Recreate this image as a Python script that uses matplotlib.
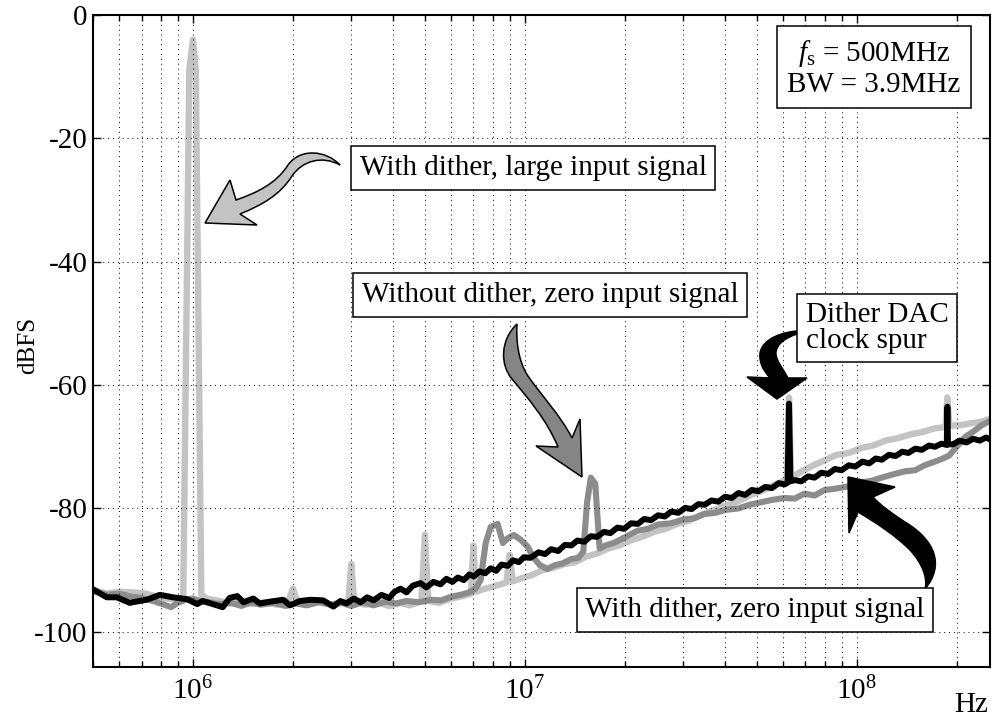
import matplotlib
matplotlib.use("Agg")
import matplotlib.pyplot as plt
from matplotlib.path import Path
from matplotlib.patches import PathPatch
from matplotlib.ticker import LogLocator, NullFormatter, FixedLocator, FixedFormatter

plt.rcParams["font.family"] = ["Liberation Serif", "DejaVu Serif"]
plt.rcParams["mathtext.fontset"] = "custom"
plt.rcParams["mathtext.rm"] = "Liberation Serif"
plt.rcParams["mathtext.it"] = "Liberation Serif:italic"

W, H = 992, 721

# ---- data (frequency in MHz, level in dBFS) --------------------------------
# with dither, large input signal (light grey)
large_f = [0.50, 0.55, 0.60, 0.66, 0.72, 0.78, 0.84, 0.89, 0.935, 0.975, 1.0, 1.02,
           1.06, 1.10, 1.20, 1.30, 1.40, 1.50, 1.65, 1.80, 1.94, 2.0, 2.06, 2.2,
           2.4, 2.6, 2.85, 2.94, 3.0, 3.06, 3.3, 3.6, 3.9, 4.2, 4.5, 4.88, 5.0,
           5.12, 5.5, 6.0, 6.5, 6.88, 7.0, 7.12, 7.6, 8.2, 8.8, 9.0, 9.2, 9.8,
           10.5, 11.3, 12.2, 13.2, 14.2, 15.3, 16.5, 17.8, 19.2, 20.8, 22.5, 24.5,
           26.5, 28.8, 31.2, 34.0, 37.0, 40.5, 44.0, 48.0, 52.5, 57.5, 61.6, 62.5,
           63.4, 68.0, 74.0, 80.0, 87.0, 94.6, 103, 112, 122, 133, 145, 158, 172,
           185, 187.5, 190, 205, 220, 235, 252]
large_db = [-93.2, -93.8, -93.5, -93.6, -93.8, -94.3, -94.6, -94.8, -94.5, -9.0, -4.0, -9.0,
            -94.0, -94.6, -95.0, -95.4, -95.0, -95.5, -95.2, -95.6, -95.0, -93.0, -95.0, -95.5,
            -95.0, -95.6, -95.2, -95.0, -89.0, -95.0, -95.6, -95.2, -95.8, -95.3, -95.7, -95.0, -84.3,
            -95.0, -95.3, -94.6, -94.2, -93.8, -86.0, -93.5, -93.0, -92.5, -92.0, -87.5, -91.8, -91.3,
            -90.8, -90.0, -89.6, -89.0, -88.7, -87.8, -87.3, -86.5, -86.0, -85.2, -84.6, -83.8,
            -83.3, -82.5, -82.0, -81.0, -80.3, -79.5, -78.8, -77.8, -77.0, -76.0, -75.3, -62.0,
            -75.0, -74.0, -73.0, -72.2, -71.3, -71.0, -70.2, -69.8, -69.0, -68.6, -68.0, -67.6, -67.0,
            -66.8, -62.0, -66.6, -66.5, -66.2, -66.0, -65.5]

# without dither, zero input signal (mid grey)
nodith_f = [0.50, 0.55, 0.60, 0.65, 0.70, 0.76, 0.82, 0.86, 0.90, 0.95, 1.00, 1.05,
            1.12, 1.2, 1.3, 1.4, 1.5, 1.6, 1.75, 1.9, 2.05, 2.2, 2.4, 2.6, 2.8, 3.0,
            3.25, 3.5, 3.8, 4.1, 4.4, 4.8, 5.2, 5.6, 6.0, 6.4, 6.8, 7.1, 7.36, 7.62,
            7.89, 8.28, 8.59, 8.89, 9.27, 9.73, 10.2, 10.6, 11.1, 11.7, 12.3, 13.0,
            13.8, 14.5, 15.0, 15.4, 15.8, 16.3, 16.8, 17.5, 18.5, 19.5, 20.6, 21.9,
            23.5, 25.2, 27.6, 30.0, 32.3, 34.8, 37.5, 40.6, 44.0, 47.5, 51.5, 55.7,
            60.6, 65.0, 69.5, 74.6, 80.0, 86.0, 94.6, 103, 111, 119, 128, 139, 150,
            160, 170, 180, 190, 200, 212, 225, 238, 252]
nodith_db = [-93.4, -94.0, -93.8, -94.3, -94.5, -95.0, -95.6, -96.0, -95.3, -94.8, -94.6, -95.0,
             -95.2, -95.5, -95.3, -95.8, -95.2, -95.6, -95.3, -95.8, -95.4, -95.7, -95.2, -95.6, -95.3, -95.8,
             -95.2, -95.7, -95.1, -95.4, -95.0, -95.2, -94.8, -94.9, -94.3, -94.0, -93.6, -93.0, -91.6, -85.6,
             -83.0, -82.5, -85.6, -84.8, -84.3, -85.1, -86.2, -87.9, -89.2, -89.8, -89.2, -88.9,
             -88.2, -88.0, -87.0, -79.0, -75.0, -76.0, -86.5, -86.0, -85.6, -85.0, -84.3, -83.6,
             -83.3, -82.6, -82.4, -81.8, -81.6, -80.9, -80.7, -80.2, -80.0, -79.4, -79.0, -78.6,
             -78.3, -78.4, -77.6, -77.9, -77.0, -76.8, -76.4, -75.8, -75.5, -75.0, -74.5, -74.0, -73.8,
             -73.0, -72.5, -72.0, -71.4, -70.0, -68.4, -67.5, -66.5, -65.8]

# with dither, zero input signal (black)
dith_f = [0.50, 0.55, 0.59, 0.645, 0.69, 0.726, 0.795, 0.87, 0.96, 1.03, 1.07, 1.18,
          1.23, 1.29, 1.36, 1.42, 1.52, 1.59, 1.71, 1.87, 1.96, 2.10, 2.26, 2.47,
          2.65, 2.78, 2.9, 3.05, 3.2, 3.35, 3.5, 3.7, 3.9, 4.05, 4.22, 4.4, 4.6,
          4.85, 5.05, 5.3, 5.57, 5.8, 6.05, 6.28, 6.55, 6.8, 7.02, 7.3, 7.6, 7.89,
          8.2, 8.5, 8.89, 9.2, 9.6, 9.93, 10.4, 11.0, 11.5, 12.0, 12.6, 13.2, 13.8,
          14.4, 15.1, 15.8, 16.5, 17.3, 18.1, 19.0, 19.9, 20.9, 21.9, 22.9, 24.0,
          25.2, 26.4, 27.6, 29.0, 30.4, 31.8, 33.3, 34.8, 36.5, 38.3, 40.1, 42.0,
          44.0, 46.1, 48.3, 50.6, 53.0, 55.5, 58.2, 60.6, 61.9, 62.5, 63.1, 65.0,
          68.0, 71.3, 74.6, 78.2, 82.0, 85.9, 90.0, 94.6, 99.0, 104, 109, 114, 119,
          125, 131, 137, 143, 150, 157, 165, 172, 180, 186.7, 187.5, 188.3, 195,
          204, 214, 224, 235, 245, 252]
dith_db = [-93.1, -94.4, -94.4, -95.3, -95.0, -94.8, -94.0, -94.4, -94.7, -95.5, -95.0, -95.7,
           -96.0, -94.5, -94.2, -95.2, -94.6, -95.4, -95.1, -94.8, -95.7, -95.0, -94.8, -94.9,
           -95.9, -95.0, -95.4, -94.6, -95.2, -94.4, -94.9, -94.0, -94.5, -93.5, -93.0, -93.6, -92.5,
           -92.1, -92.8, -91.9, -92.3, -91.4, -91.9, -91.2, -91.6, -90.7, -91.0, -90.2, -90.5, -89.7,
           -90.1, -89.1, -89.3, -88.4, -88.7, -87.9, -88.0, -87.1, -87.4, -86.6, -86.9, -85.9, -86.0,
           -85.2, -85.4, -84.5, -84.6, -83.8, -84.0, -83.1, -83.3, -82.4, -82.5, -81.7, -81.9,
           -81.1, -81.3, -80.5, -80.7, -79.9, -80.1, -79.3, -79.4, -78.7, -78.9, -78.1, -78.3,
           -77.5, -77.8, -77.0, -77.2, -76.5, -76.7, -75.9, -76.1, -75.8, -63.0, -75.6, -75.4,
           -75.6, -74.8, -75.0, -74.2, -74.4, -73.6, -73.8, -73.0, -73.2, -72.4, -72.7, -71.9, -72.1,
           -71.3, -71.5, -70.8, -71.0, -70.3, -70.5, -69.8, -70.0, -69.5, -69.7, -63.5, -69.6, -69.6,
           -69.0, -69.3, -68.7, -69.0, -68.5, -68.8]

y_ticks = [0, -20, -40, -60, -80, -100]
x_major = [1e6, 1e7, 1e8]
x_labels = [r"$10^{6}$", r"$10^{7}$", r"$10^{8}$"]

LIGHT = "#c3c3c3"
MID = "#8c8c8c"


def px(x, y):
    return (x / W, 1 - y / H)


fig = plt.figure(figsize=(W / 100, H / 100), dpi=100)
ax = fig.add_axes([93 / W, 1 - 667 / H, (990 - 93) / W, (667 - 15) / H])

for f, db, c, lw in [(large_f, large_db, LIGHT, 4.6),
                     (nodith_f, nodith_db, MID, 4.4),
                     (dith_f, dith_db, "black", 4.3)]:
    ax.plot([v * 1e6 for v in f], db, color=c, lw=lw,
            solid_joinstyle="round", solid_capstyle="round")

ax.set_xscale("log")
ax.set_xlim(5e5, 2.52e8)
ax.set_ylim(-105.7, 0)
ax.xaxis.set_major_locator(FixedLocator(x_major))
ax.xaxis.set_major_formatter(FixedFormatter(x_labels))
ax.xaxis.set_minor_locator(LogLocator(base=10, subs=range(2, 10)))
ax.xaxis.set_minor_formatter(NullFormatter())
ax.set_yticks(y_ticks)
ax.set_yticklabels([str(v) for v in y_ticks])

ax.set_axisbelow(False)
dots = dict(color="black", linestyle=(0, (1, 4)), linewidth=0.7)
ax.grid(True, which="both", axis="x", **dots)
ax.grid(True, which="major", axis="y", **dots)

ax.tick_params(which="both", direction="in", top=True, right=True, width=1.0)
ax.tick_params(which="major", length=5.5)
ax.tick_params(which="minor", length=4.5)
ax.tick_params(axis="x", which="major", labelsize=21, pad=7)
ax.tick_params(axis="y", which="major", labelsize=21, pad=4)
for s in ax.spines.values():
    s.set_linewidth(1.5)

fig.text(*px(28, 345), "dBFS", rotation=90, ha="center", va="center", fontsize=18)
fig.text(*px(988, 712), "Hz", ha="right", va="baseline", fontsize=21)

box = dict(boxstyle="square,pad=0.3", fc="white", ec="black", lw=1.1)
fig.text(*px(533, 168), "With dither, large input signal", ha="center", va="center",
         fontsize=21, bbox=box, zorder=6)
fig.text(*px(550, 295), "Without dither, zero input signal", ha="center", va="center",
         fontsize=21, bbox=box, zorder=6)
fig.text(*px(877, 328), "Dither DAC\nclock spur", ha="center", va="center",
         multialignment="left", linespacing=0.95, fontsize=21, bbox=box, zorder=6)
fig.text(*px(755, 610), "With dither, zero input signal", ha="center", va="center",
         fontsize=21, bbox=box, zorder=6)
fig.text(*px(874, 68), "$f_\\mathrm{s}$ = 500MHz\nBW = 3.9MHz", ha="center", va="center",
         linespacing=1.15, fontsize=21,
         bbox=dict(boxstyle="square,pad=0.35", fc="white", ec="black", lw=1.1), zorder=6)


def curved_arrow(tokens, fc):
    verts, codes = [], []
    for t in tokens:
        if t[0] == "M":
            verts.append(px(*t[1])); codes.append(Path.MOVETO)
        elif t[0] == "L":
            verts.append(px(*t[1])); codes.append(Path.LINETO)
        elif t[0] == "C":
            for p in t[1:]:
                verts.append(px(*p)); codes.append(Path.CURVE4)
    verts.append(verts[0]); codes.append(Path.CLOSEPOLY)
    fig.patches.append(PathPatch(Path(verts, codes), fc=fc, ec="black", lw=1.1,
                                 transform=fig.transFigure, zorder=5))


# large-signal arrow (light grey)
curved_arrow([("M", (340, 165)),
              ("C", (326, 150), (300, 148), (288, 165)),
              ("C", (276, 184), (256, 193), (236, 200)),
              ("L", (230, 180)), ("L", (205, 223)), ("L", (257, 225)), ("L", (240, 214)),
              ("C", (262, 205), (280, 195), (292, 176)),
              ("C", (302, 161), (322, 155), (340, 165))], LIGHT)
# no-dither arrow (mid grey)
curved_arrow([("M", (517, 324)),
              ("C", (500, 340), (500, 365), (512, 379)),
              ("C", (527, 397), (547, 420), (558, 447)),
              ("L", (536, 446)), ("L", (582, 477)), ("L", (580, 419)), ("L", (572, 438)),
              ("C", (561, 416), (541, 395), (528, 376)),
              ("C", (518, 361), (516, 340), (517, 324))], "#858585")
# clock spur arrow (black)
curved_arrow([("M", (797, 331)),
              ("C", (775, 333), (758, 343), (760, 358)),
              ("C", (761, 368), (766, 373), (770, 378)),
              ("L", (747, 377)), ("L", (777, 399)), ("L", (807, 378)), ("L", (788, 378)),
              ("C", (784, 370), (775, 360), (776, 352)),
              ("C", (777, 344), (785, 338), (797, 334))], "black")
# dither, zero-input arrow (black)
curved_arrow([("M", (925, 589)),
              ("C", (945, 565), (935, 540), (905, 522)),
              ("C", (890, 512), (880, 505), (873, 497)),
              ("L", (895, 487)), ("L", (848, 477)), ("L", (849, 533)), ("L", (858, 512)),
              ("C", (875, 522), (895, 535), (910, 550)),
              ("C", (922, 563), (928, 578), (925, 589))], "black")

fig.savefig("out.png", dpi=100, facecolor="white")
